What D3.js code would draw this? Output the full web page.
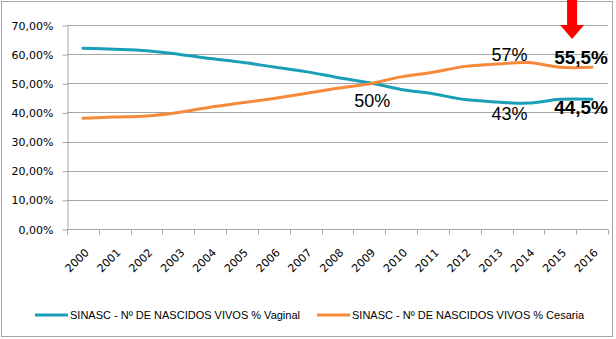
<!DOCTYPE html>
<html>
<head>
<meta charset="utf-8">
<script src="https://cdn.jsdelivr.net/npm/d3@7"></script>
<style>
  body { margin: 0; background: #fff; }
  svg { display: block; }
  .tick text { font-family: "DejaVu Sans", Verdana, sans-serif; font-size: 11px; fill: #000; }
</style>
</head>
<body>
<svg id="chart" width="616" height="339"></svg>
<script>
var years = ["2000","2001","2002","2003","2004","2005","2006","2007","2008",
             "2009","2010","2011","2012","2013","2014","2015","2016"];
var vaginal = [62.0, 61.7, 61.2, 60.0, 58.5, 57.2, 55.6, 54.0, 52.0,
               50.2, 47.9, 46.4, 44.4, 43.6, 43.2, 44.5, 44.5];
var cesaria = [38.0, 38.4, 38.8, 40.0, 41.8, 43.3, 44.8, 46.5, 48.3,
               49.8, 52.2, 53.8, 55.8, 56.6, 57.1, 55.5, 55.5];
var yTicks = [0, 10, 20, 30, 40, 50, 60, 70];
var seriesNames = ["SINASC - Nº DE NASCIDOS VIVOS % Vaginal",
                   "SINASC - Nº DE NASCIDOS VIVOS % Cesaria"];
var colors = ["#1a9fb8", "#f7893a"];
// annotations: [year, series value, text, dx, dy, bold]
var notes = [
  ["2009", 50.2, "50%", 3, 24, false],
  ["2014", 57.1, "57%", -19, -2, false],
  ["2014", 43.2, "43%", -19, 17, false],
  ["2016", 55.5, "55,5%", -11, -3, true],
  ["2016", 44.5, "44,5%", -11, 15, true]
];

var svg = d3.select("#chart");

// outer border
svg.append("rect")
  .attr("x", 1.5).attr("y", 1.5)
  .attr("width", 611).attr("height", 335)
  .attr("fill", "#fff").attr("stroke", "#a6a6a6");

var x = d3.scaleBand()
  .domain(years)
  .range([67, 608]);

var y = d3.scaleLinear()
  .domain([0, 70])
  .range([229, 25]);

var fmt = function(d) { return d3.format(".2f")(d).replace(".", ",") + "%"; };

// gridlines
svg.append("g")
  .selectAll("line")
  .data(yTicks.filter(function(d) { return d > 0; }))
  .enter().append("line")
  .attr("x1", 67).attr("x2", 608)
  .attr("y1", function(d) { return Math.round(y(d)) + 0.5; })
  .attr("y2", function(d) { return Math.round(y(d)) + 0.5; })
  .attr("stroke", "#a6a6a6");

// y axis
var yAxis = svg.append("g")
  .attr("transform", "translate(67.5,0.5)")
  .call(d3.axisLeft(y).tickValues(yTicks).tickFormat(fmt).tickSize(5).tickPadding(9).tickSizeOuter(0));
yAxis.select(".domain").attr("stroke", "#a6a6a6");
yAxis.selectAll(".tick line").attr("stroke", "#a6a6a6");

// x axis, ticks between categories
var xAxis = svg.append("g")
  .attr("transform", "translate(0," + (Math.round(y(0)) + 0.5) + ")");
xAxis.append("line")
  .attr("x1", 67).attr("x2", 608)
  .attr("stroke", "#a6a6a6");
xAxis.selectAll(".tk")
  .data(years.concat(["end"]))
  .enter().append("line")
  .attr("class", "tk")
  .attr("x1", function(d, i) { return Math.round(67 + i * x.step()) + 0.5; })
  .attr("x2", function(d, i) { return Math.round(67 + i * x.step()) + 0.5; })
  .attr("y1", 0).attr("y2", 5)
  .attr("stroke", "#a6a6a6");
xAxis.selectAll(".lbl")
  .data(years)
  .enter().append("text")
  .attr("class", "lbl")
  .attr("transform", function(d) {
    return "translate(" + (x(d) + x.bandwidth() / 2 + 4) + ",21) rotate(-45)";
  })
  .attr("text-anchor", "end")
  .attr("dy", "0.35em")
  .style("font-family", "DejaVu Sans, Verdana, sans-serif")
  .style("font-size", "11px")
  .text(function(d) { return d; });

// lines
var line = d3.line()
  .x(function(d, i) { return x(years[i]) + x.bandwidth() / 2; })
  .y(function(d) { return y(d); })
  .curve(d3.curveCatmullRom);

[vaginal, cesaria].forEach(function(s, k) {
  svg.append("path")
    .datum(s)
    .attr("d", line)
    .attr("fill", "none")
    .attr("stroke", colors[k])
    .attr("stroke-width", 3)
    .attr("stroke-linecap", "round");
});

// value labels
svg.selectAll(".note")
  .data(notes)
  .enter().append("text")
  .attr("class", "note")
  .attr("x", function(d) { return x(d[0]) + x.bandwidth() / 2 + d[3]; })
  .attr("y", function(d) { return y(d[1]) + d[4]; })
  .attr("text-anchor", "middle")
  .style("font-family", "Liberation Sans, Arial, sans-serif")
  .style("font-size", function(d) { return d[5] ? "19px" : "18px"; })
  .style("font-weight", function(d) { return d[5] ? "bold" : "normal"; })
  .text(function(d) { return d[2]; });

// red arrow
var ax = x("2016") + x.bandwidth() / 2 - 20;
svg.append("path")
  .attr("d", "M" + (ax - 5) + ",0 L" + (ax + 5) + ",0 L" + (ax + 5) + ",25 L" + (ax + 12) + ",25 L" + ax + ",39 L" + (ax - 12) + ",25 L" + (ax - 5) + ",25 Z")
  .attr("fill", "#ff0000");

// legend
var legend = svg.append("g");
var legX = [35, 317];
seriesNames.forEach(function(name, k) {
  legend.append("line")
    .attr("x1", legX[k]).attr("x2", legX[k] + 33)
    .attr("y1", 315).attr("y2", 315)
    .attr("stroke", colors[k]).attr("stroke-width", 3);
  legend.append("text")
    .attr("x", legX[k] + 35).attr("y", 315)
    .attr("dy", "0.35em")
    .style("font-family", "Liberation Sans, Arial, sans-serif")
    .style("font-size", "11px")
    .text(name);
});
</script>
</body>
</html>
